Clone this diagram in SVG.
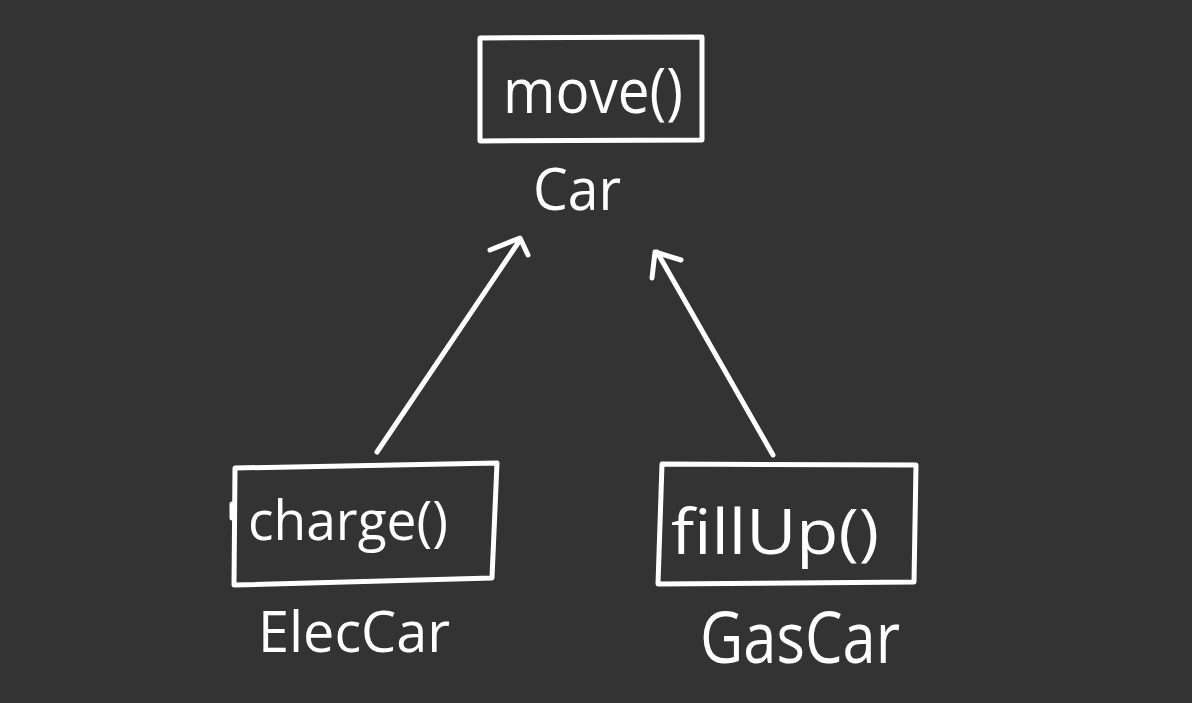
<svg xmlns="http://www.w3.org/2000/svg" width="1192" height="703" viewBox="0 0 1192 703">
<style>
.box{fill:none;stroke:#ffffff;stroke-width:5;stroke-linejoin:round;stroke-linecap:round}
.line{fill:none;stroke:#ffffff;stroke-width:5;stroke-linecap:round;stroke-linejoin:round}
.t{fill:#ffffff;font-family:"Open Sans","Noto Sans",sans-serif;font-weight:400;text-anchor:middle}
</style>
<rect x="0" y="0" width="1192" height="703" fill="#333333"/>
<g id="car">
<path class="box" d="M480,38 L702,37 L702,140 L480,141 Z"/>
<text class="t" x="593" y="113" font-size="62" textLength="180" lengthAdjust="spacingAndGlyphs">move()</text>
<text class="t" x="577" y="210" font-size="58" textLength="88" lengthAdjust="spacingAndGlyphs">Car</text>
</g>
<g id="eleccar">
<path class="box" d="M235,468 L497,463 L492,578 L234,585 Z"/>
<path class="line" d="M232,504 L232,518"/>
<text class="t" x="348" y="540" font-size="54" textLength="200" lengthAdjust="spacingAndGlyphs">charge()</text>
<text class="t" x="354" y="652" font-size="57" textLength="192" lengthAdjust="spacingAndGlyphs">ElecCar</text>
</g>
<g id="gascar">
<path class="box" d="M662,464 L916,465 L914,582 L658,584 Z"/>
<text class="t" x="775" y="554" font-size="62" textLength="208" lengthAdjust="spacingAndGlyphs">fillUp()</text>
<text class="t" x="800" y="663" font-size="72" textLength="200" lengthAdjust="spacingAndGlyphs">GasCar</text>
</g>
<g id="connectors">
<path class="line" d="M377,452 L520,240"/>
<path class="line" d="M490,250 L520,238 L528,255"/>
<path class="line" d="M773,455 L657,252"/>
<path class="line" d="M652,278 L655,252 L681,260"/>
</g>
</svg>
